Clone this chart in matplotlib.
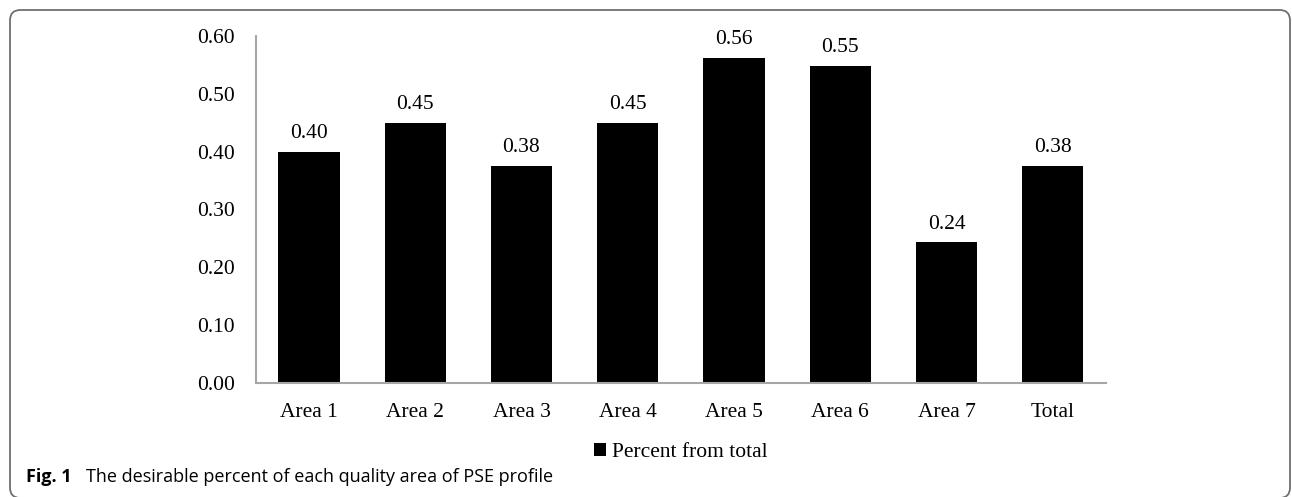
import matplotlib.pyplot as plt
from matplotlib.patches import FancyBboxPatch

categories = ['Area 1', 'Area 2', 'Area 3', 'Area 4', 'Area 5', 'Area 6', 'Area 7', 'Total']
values = [0.40, 0.45, 0.376, 0.45, 0.562, 0.548, 0.243, 0.376]
y_ticks = [0.0, 0.1, 0.2, 0.3, 0.4, 0.5, 0.6]

plt.rcParams['font.family'] = ['Liberation Serif', 'DejaVu Serif']

fig = plt.figure(figsize=(12.92, 4.97), dpi=100)
ax = fig.add_axes([0.198, 0.2294, 0.658, 0.6982])

x = range(len(categories))
bars = ax.bar(x, values, width=0.575, color='black', label='Percent from total')
for b, v in zip(bars, values):
    ax.text(b.get_x() + b.get_width() / 2, v + 0.015, f'{v:.2f}',
            ha='center', va='bottom', fontsize=15.5)

ax.set_xlim(-0.5, len(categories) - 0.5)
ax.set_ylim(0, 0.6)
ax.set_yticks(y_ticks)
ax.set_yticklabels([f'{t:.2f}' for t in y_ticks])
ax.set_xticks(list(x))
ax.set_xticklabels(categories)
ax.tick_params(axis='both', length=0, labelsize=15.5)
ax.tick_params(axis='y', pad=15)
ax.tick_params(axis='x', pad=14.5)
for s in ['top', 'right']:
    ax.spines[s].set_visible(False)
for s in ['left', 'bottom']:
    ax.spines[s].set_color('#a6a6a6')
    ax.spines[s].set_linewidth(1.5)

ax.legend(loc='upper center', bbox_to_anchor=(0.5, -0.141), frameon=False,
          fontsize=15.5, handlelength=0.55, handleheight=0.55, handletextpad=0.25,
          borderpad=0)

# caption
fig.text(26 / 1292, 1 - 477 / 497, 'Fig. 1', fontsize=13, fontweight='bold',
         family=['Open Sans', 'DejaVu Sans'], va='center')
fig.text(86 / 1292, 1 - 477 / 497, 'The desirable percent of each quality area of PSE profile',
         fontsize=13, family=['Open Sans', 'DejaVu Sans'], va='center')

# rounded frame, bottom edge just outside the image
frame = FancyBboxPatch((10 / 1292, -1 / 497), 1280 / 1292, 1 - 9 / 497,
                       boxstyle='round,pad=0,rounding_size=0.008',
                       transform=fig.transFigure, fill=False,
                       edgecolor='#707070', linewidth=1.3, clip_on=False,
                       mutation_aspect=1292 / 497)
fig.patches.append(frame)

fig.savefig('out.png', dpi=100)
